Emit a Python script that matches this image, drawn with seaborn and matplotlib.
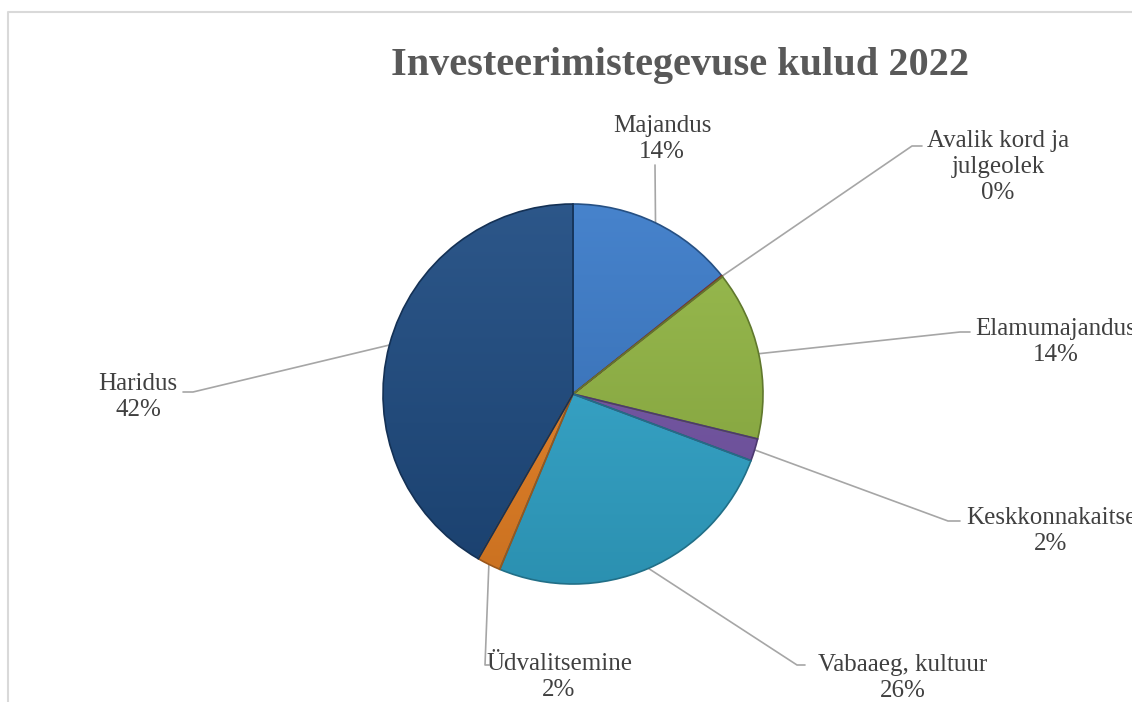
import numpy as np
import matplotlib
matplotlib.use('Agg')
import matplotlib.pyplot as plt
import matplotlib.colors as mcolors
import seaborn as sns

# data
categories = ["Majandus", "Avalik kord ja\njulgeolek", "Elamumajandus", "Keskkonnakaitse",
              "Vabaaeg, kultuur", "Üdvalitsemine", "Haridus"]
shares = [14.3, 0.1, 14.4, 1.9, 25.6, 2.0, 41.7]
slice_colors = ["#3B7BC9", "#C0504D", "#94B845", "#7757AA", "#33AAD0", "#EE8526", "#1F4C82"]
title = "Investeerimistegevuse kulud 2022"

# label layout (pixel units, y downwards): text block centre, leader elbow, leader end
label_pos = [(662, 139), (998, 167), (1056, 342), (1051, 531), (903, 678), (559, 677), (138, 397)]
leader_pts = [
    [(655, 165)],
    [(912, 146), (922, 146)],
    [(960, 332), (970, 332)],
    [(948, 521), (960, 521)],
    [(797, 665), (805, 665)],
    [(485, 665), (489, 665)],
    [(193, 392), (183, 392)],
]

W, H = 1132, 702
cx, cy, R = 573, 394, 190

sns.set_theme(style="white")
plt.rcParams['font.family'] = ['Liberation Serif', 'DejaVu Serif']

fig = plt.figure(figsize=(W / 100, H / 100), dpi=100)
ax = fig.add_axes([0, 0, 1, 1])


def mix(c, amount):
    rgb = np.array(mcolors.to_rgb(c))
    if amount >= 0:
        return rgb + (1 - rgb) * amount
    return rgb * (1 + amount)


wedges, _ = ax.pie(shares, colors=slice_colors, startangle=-90, counterclock=True,
                   center=(cx, cy), radius=R,
                   wedgeprops=dict(linewidth=1.2))

# vertical gradient inside each slice, darker rim
t = np.linspace(0, 1, 256)[:, None, None]
for w, col in zip(wedges, slice_colors):
    top, bot = mix(col, 0.06), mix(col, -0.15)
    grad = top * (1 - t) + bot * t
    grad = np.repeat(grad, 2, axis=1)
    im = ax.imshow(grad, extent=[cx - R, cx + R, cy + R, cy - R], origin='upper',
                   interpolation='bilinear', zorder=w.get_zorder() + 0.1)
    im.set_clip_path(w)
    w.set_edgecolor(mix(col, -0.35))
    w.set_zorder(w.get_zorder() + 0.2)
    w.set_facecolor('none')

total = sum(shares)
for w, name, val, (tx, ty), pts in zip(wedges, categories, shares, label_pos, leader_pts):
    mid = np.deg2rad((w.theta1 + w.theta2) / 2)
    sx, sy = cx + R * np.cos(mid), cy + R * np.sin(mid)
    xs = [sx] + [p[0] for p in pts]
    ys = [sy] + [p[1] for p in pts]
    ax.plot(xs, ys, color="#A6A6A6", lw=1.2, zorder=1)
    ax.text(tx, ty, f"{name}\n{round(val / total * 100):.0f}%", ha='center', va='center',
            fontsize=18, color="#404040", linespacing=1.25)

ax.text(680, 66, title, ha='center', va='center', fontsize=29, fontweight='bold',
        color="#595959")

# chart area border (cropped at right and bottom)
ax.plot([7.5, 7.5, W], [H, 11.5, 11.5], color="#D9D9D9", lw=1.5, zorder=0)

ax.set_xlim(0, W)
ax.set_ylim(H, 0)
ax.set_aspect('auto')
ax.axis('off')

fig.savefig("out.png", dpi=100)
